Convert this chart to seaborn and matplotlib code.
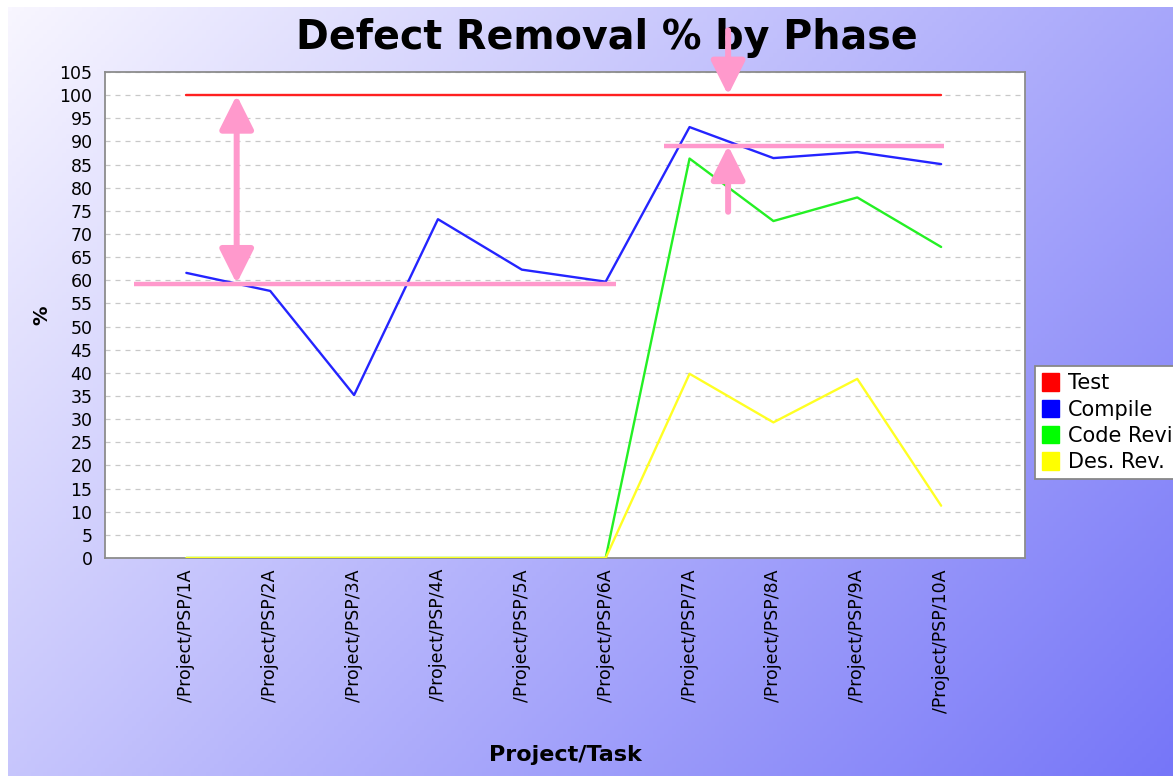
import numpy as np
import pandas as pd
import matplotlib.pyplot as plt
import seaborn as sns
from matplotlib.patches import Patch

# ---- data ----
tasks = ["/Project/PSP/1A", "/Project/PSP/2A", "/Project/PSP/3A", "/Project/PSP/4A",
         "/Project/PSP/5A", "/Project/PSP/6A", "/Project/PSP/7A", "/Project/PSP/8A",
         "/Project/PSP/9A", "/Project/PSP/10A"]
test_pct = [100, 100, 100, 100, 100, 100, 100, 100, 100, 100]
compile_pct = [61.6, 57.7, 35.2, 73.2, 62.3, 59.7, 93.1, 86.4, 87.7, 85.1]
code_rev_pct = [0, 0, 0, 0, 0, 0, 86.3, 72.8, 77.9, 67.2]
des_rev_pct = [0, 0, 0, 0, 0, 0, 39.8, 29.3, 38.7, 11.3]
phases = ["Test", "Compile", "Code Review", "Des. Rev."]
phase_colors = ["#ff2020", "#2424ff", "#24f024", "#ffff24"]
legend_colors = ["#ff0000", "#0000ff", "#00ff00", "#ffff00"]

# pink call-out levels (added on top of the original chart)
low_mark = 59.3
high_mark = 89.1

df = pd.DataFrame({
    "idx": np.tile(np.arange(len(tasks)), len(phases)),
    "Phase": np.repeat(phases, len(tasks)),
    "pct": test_pct + compile_pct + code_rev_pct + des_rev_pct,
})

W, H = 1173, 776
sns.set_theme(style="white")
plt.rcParams['font.family'] = ['DejaVu Sans']
plt.rcParams['text.color'] = 'black'
plt.rcParams['xtick.color'] = 'black'
plt.rcParams['ytick.color'] = 'black'

fig = plt.figure(figsize=(W / 100, H / 100), dpi=100, facecolor="white")

# diagonal lavender -> blue background
bg = fig.add_axes([8 / W, 0, 1 - 8 / W, 1 - 7 / H])
bg.set_zorder(-5)
gx, gy = np.meshgrid(np.linspace(0, 1, 300), np.linspace(0, 1, 200))
t = np.clip(0.62 * gx + 0.38 * gy, 0, 1)[..., None]
c0 = np.array([248, 246, 255]) / 255
c1 = np.array([118, 118, 248]) / 255
bg.imshow(c0 + (c1 - c0) * t, aspect="auto", extent=(0, 1, 0, 1), origin="upper")
bg.axis("off")

ax = fig.add_axes([105 / W, 1 - 558 / H, 920 / W, 486 / H])
ax.set_zorder(1)
ax.set_facecolor("white")

sns.lineplot(data=df, x="idx", y="pct", hue="Phase", palette=phase_colors,
             hue_order=phases, linewidth=1.7, legend=False, ax=ax, zorder=3)

ax.set_xlim(-0.97, 10.0)
ax.set_ylim(0, 105)
ax.set_yticks(np.arange(0, 106, 5))
ax.set_xticks(np.arange(len(tasks)))
ax.set_xticklabels(tasks, rotation=90, fontsize=12.5)
ax.tick_params(axis="y", labelsize=12.5, length=6, width=1.6, color="#444444", pad=3)
ax.tick_params(axis="x", length=2, color="#888888", pad=6)
ax.yaxis.grid(True, color="#c8c8c8", linestyle=(0, (4, 4)), linewidth=0.9)
ax.xaxis.grid(False)
for s in ax.spines.values():
    s.set_color("#8c8c8c")
    s.set_linewidth(1.3)
ax.set_xlabel("")
ax.set_ylabel("")

# pink call-outs
pink = "#ff99cc"
ax.hlines(low_mark, -0.62, 5.12, color=pink, linewidth=3.2, zorder=5)
ax.hlines(high_mark, 5.69, 9.03, color=pink, linewidth=3.2, zorder=5)
arrow_kw = dict(color=pink, lw=4.3, shrinkA=0, shrinkB=0, mutation_scale=52)
ax.annotate("", xy=(0.6, test_pct[0]), xytext=(0.6, low_mark),
            arrowprops=dict(arrowstyle="<|-|>", **arrow_kw), zorder=6)
ax.annotate("", xy=(6.46, test_pct[6]), xytext=(6.46, 114),
            arrowprops=dict(arrowstyle="-|>", **arrow_kw), annotation_clip=False, zorder=6)
ax.annotate("", xy=(6.46, high_mark), xytext=(6.46, 74.8),
            arrowprops=dict(arrowstyle="-|>", **arrow_kw), zorder=6)

fig.text(607 / W, 1 - 38 / H, "Defect Removal % by Phase", ha="center", va="center",
         fontsize=28.5, fontweight="bold", zorder=0.5)
fig.text(42 / W, 1 - 315 / H, "%", rotation=90, ha="center", va="center",
         fontsize=14, fontweight="bold")
fig.text(565 / W, 1 - 755 / H, "Project/Task", ha="center", va="center",
         fontsize=16, fontweight="bold")

handles = [Patch(facecolor=c, edgecolor=c) for c in legend_colors]
leg = fig.legend(handles, phases, loc="upper left", bbox_to_anchor=(1035 / W, 1 - 366 / H),
                 fontsize=15, frameon=True, fancybox=False, handlelength=0.8,
                 handleheight=0.9, handletextpad=0.45, labelspacing=0.3, borderpad=0.35,
                 borderaxespad=0)
leg.get_frame().set_edgecolor("#888888")
leg.get_frame().set_linewidth(1.3)
leg.get_frame().set_facecolor("white")
leg.get_frame().set_alpha(1)

fig.savefig("out.png", dpi=100)
